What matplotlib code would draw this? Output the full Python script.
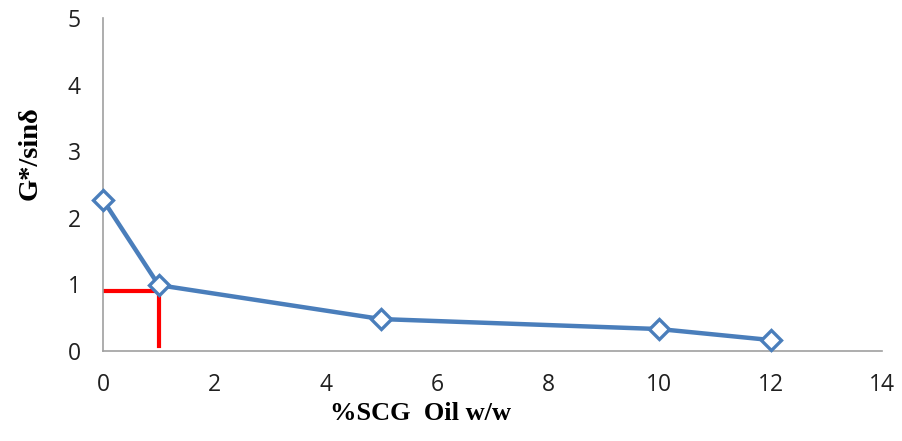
import matplotlib
matplotlib.use("Agg")
import matplotlib.pyplot as plt

# SCG oil content (% w/w) vs rutting parameter
oil_pct = [0, 1, 5, 10, 12]
g_sin_delta = [2.27, 0.99, 0.48, 0.33, 0.165]

# red guide marking the 1.0 limit crossing
guide_x = [0, 1.0, 1.0]
guide_y = [0.90, 0.90, 0.07]

x_ticks = [0, 2, 4, 6, 8, 10, 12, 14]
y_ticks = [0, 1, 2, 3, 4, 5]

BLUE = "#4A7EBB"

fig = plt.figure(figsize=(9.02, 4.41), dpi=100)
ax = fig.add_axes([0.1142, 0.204, 0.8636, 0.755])

ax.plot(oil_pct, g_sin_delta, color=BLUE, linewidth=3.2,
        marker="D", markersize=10, markerfacecolor="white",
        markeredgecolor=BLUE, markeredgewidth=2.4, zorder=3, clip_on=False)
ax.plot(guide_x, guide_y, color="#FF0000", linewidth=3, zorder=2,
        solid_joinstyle="miter")

ax.set_xlim(0, 14)
ax.set_ylim(0, 5)
ax.set_xticks(x_ticks)
ax.set_yticks(y_ticks)

for side in ("top", "right"):
    ax.spines[side].set_visible(False)
for side in ("left", "bottom"):
    ax.spines[side].set_color("#A0A0A0")
    ax.spines[side].set_linewidth(1.2)

ax.tick_params(length=0, labelsize=16.5, colors="#202020")
ax.tick_params(axis="x", pad=16)
ax.tick_params(axis="y", pad=16)
for lbl in ax.get_xticklabels() + ax.get_yticklabels():
    lbl.set_family("Open Sans")

fig.text(421 / 902, 1 - 414 / 441, "%SCG  Oil w/w", ha="center", va="center",
         fontsize=19, fontweight="bold", family="Liberation Serif")
fig.text(30 / 902, 1 - 153 / 441, "G*/sinδ", ha="center", va="center",
         rotation=90, fontsize=20.5, fontweight="bold", family="Liberation Serif")

fig.savefig("out.png", dpi=100)
